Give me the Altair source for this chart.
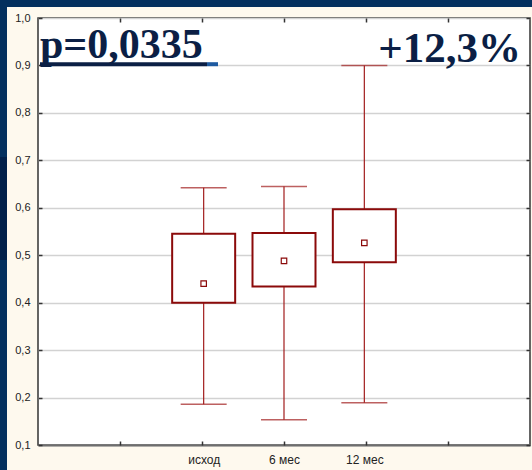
import altair as alt
import pandas as pd

# Groups and their slots on the horizontal scale (0..6)
groups = ["исход", "6 мес", "12 мес"]
positions = [2, 3, 4]

# Box-plot statistics per group
whisker_low = [0.186, 0.153, 0.189]
box_low = [0.400, 0.434, 0.485]
means = [0.440, 0.488, 0.526]
box_high = [0.545, 0.547, 0.597]
whisker_high = [0.642, 0.645, 0.900]

x_ticks = [1, 2, 3, 4, 5]
y_ticks = [0.1, 0.2, 0.3, 0.4, 0.5, 0.6, 0.7, 0.8, 0.9, 1.0]

df = pd.DataFrame({
    "group": groups,
    "pos": positions,
    "lo": whisker_low,
    "q1": box_low,
    "mean": means,
    "q3": box_high,
    "hi": whisker_high,
})
tick_df = pd.DataFrame({"t": x_ticks + [None] * (len(y_ticks) - len(x_ticks)), "v": y_ticks})
one = pd.DataFrame({"a": [0]})

xs = alt.Scale(domain=[0, 6], nice=False, zero=False)
ys = alt.Scale(domain=[0.1, 1.0], nice=False, zero=False)

x_label_expr = " : ".join(f"datum.value == {p} ? '{g}'" for p, g in zip(positions, groups)) + " : ''"

x_axis = alt.Axis(
    values=x_ticks, grid=False, domainColor="#6e6e6e", domainWidth=2, tickSize=0,
    labelExpr=x_label_expr, labelFont="Liberation Sans Narrow, Arial Narrow, Liberation Sans",
    labelFontSize=12, labelPadding=9, labelColor="#222222", title=None,
)
y_axis = alt.Axis(
    values=y_ticks, grid=True, gridColor="#d2d2d2", gridWidth=1.5, domain=False, tickSize=0,
    labelExpr="replace(format(datum.value, '.1f'), '.', ',')", labelFont="Liberation Sans",
    labelFontSize=11, labelPadding=8, labelColor="#222222", title=None,
)

X = lambda f: alt.X(f"{f}:Q", scale=xs, axis=x_axis)
Y = lambda f: alt.Y(f"{f}:Q", scale=ys, axis=y_axis)

red = "#8b0a0a"
whisk_red = "#a11c1c"

base = alt.Chart(df)
whiskers = base.mark_rule(color=whisk_red, strokeWidth=1.2).encode(x=X("pos"), y=Y("lo"), y2="hi:Q")
cap_lo = base.mark_tick(orient="horizontal", size=46, thickness=1.5, color=whisk_red).encode(x=X("pos"), y=Y("lo"))
cap_hi = base.mark_tick(orient="horizontal", size=46, thickness=1.5, color=whisk_red).encode(x=X("pos"), y=Y("hi"))
boxes = base.mark_bar(size=63, fill="white", stroke=red, strokeWidth=2).encode(x=X("pos"), y=Y("q1"), y2="q3:Q")
mean_pts = base.mark_point(shape="square", size=30, filled=False, color=red, strokeWidth=1.2, opacity=1).encode(
    x=X("pos"), y=Y("mean")
)
main = alt.layer(whiskers, cap_lo, cap_hi, boxes, mean_pts)

# Inward tick marks on all four sides of the frame
def tick_axis(orient, values):
    return alt.Axis(orient=orient, values=values, labels=False, domain=False, grid=False,
                    tickSize=4, offset=-4, tickColor="#333333", tickWidth=1.5, title=None)

ticks_tr = alt.Chart(tick_df).mark_point(opacity=0).encode(
    x=alt.X("t:Q", scale=xs, axis=tick_axis("top", x_ticks)),
    y=alt.Y("v:Q", scale=ys, axis=tick_axis("right", y_ticks)),
)
ticks_bl = alt.Chart(tick_df).mark_point(opacity=0).encode(
    x=alt.X("t:Q", scale=xs, axis=tick_axis("bottom", x_ticks)),
    y=alt.Y("v:Q", scale=ys, axis=tick_axis("left", y_ticks)),
)

# Slide frame strips around the chart panel
navy = "#04305e"
strip_left = alt.Chart(one).mark_rect(color=navy).encode(
    x=alt.value(-38), x2=alt.value(-31), y=alt.value(-18), y2=alt.value(452))
strip_top = alt.Chart(one).mark_rect(color=navy).encode(
    x=alt.value(-38), x2=alt.value(494), y=alt.value(-18), y2=alt.value(-11))
strip_dark = alt.Chart(one).mark_rect(color="#02204a").encode(
    x=alt.value(-38), x2=alt.value(-31), y=alt.value(139), y2=alt.value(242))

title_color = "#0b1f45"
p_text = alt.Chart(one).mark_text(
    align="left", baseline="alphabetic", font="Liberation Serif", fontSize=42, fontWeight="bold",
    color=title_color).encode(x=alt.value(2), y=alt.value(39.5), text=alt.value("p=0,0335"))
pct_text = alt.Chart(one).mark_text(
    align="right", baseline="alphabetic", font="Liberation Serif", fontSize=43, fontWeight="bold",
    color=title_color).encode(x=alt.value(483), y=alt.value(43.5), text=alt.value("+12,3%"))
underline = alt.Chart(one).mark_rule(color=title_color, strokeWidth=4).encode(
    x=alt.value(2), x2=alt.value(169), y=alt.value(46.2))
underline_end = alt.Chart(one).mark_rule(color="#1e5aa0", strokeWidth=4).encode(
    x=alt.value(169), x2=alt.value(180), y=alt.value(46.2))

chart = alt.layer(
    main, ticks_tr, ticks_bl,
    strip_left, strip_top, strip_dark,
    underline, underline_end, p_text, pct_text,
).resolve_scale(x="independent", y="independent").properties(
    width=492, height=427,
    padding={"left": 38, "top": 18, "right": 2, "bottom": 25},
    autosize=alt.AutoSizeParams(type="none"),
    background="#fef9ee",
).configure_view(fill="white", stroke="#333333", strokeWidth=1.5)

chart.save("out.html", embed_options={"renderer": "svg", "actions": False})
